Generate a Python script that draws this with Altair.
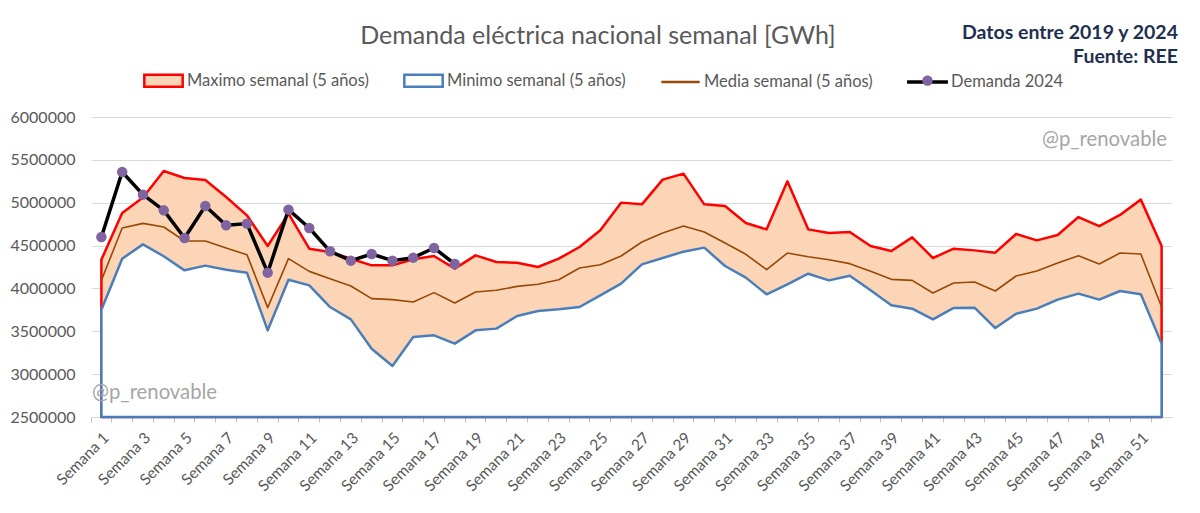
import altair as alt
import pandas as pd

FONT = "Lato"
GREY_TXT = "#595959"

title_text = ["Demanda eléctrica nacional semanal [GWh]"]
info_line1 = ["Datos entre 2019 y 2024"]
info_line2 = ["Fuente: REE"]
watermark = ["@p_renovable"]

series_names = [
    "Maximo semanal (5 años)",
    "Minimo semanal (5 años)",
    "Media semanal (5 años)",
    "Demanda 2024",
]

weeks = [f"Semana {i}" for i in range(1, 53)]

y_ticks = [2500000, 3000000, 3500000, 4000000, 4500000, 5000000, 5500000, 6000000]

max_5y = [4336000, 4880000, 5060000, 5370000, 5288000, 5265000, 5067000, 4853000,
          4495000, 4872000, 4464000, 4425000, 4347000, 4269000, 4269000, 4340000,
          4378000, 4231000, 4386000, 4308000, 4300000, 4250000, 4347000, 4483000,
          4678000, 5001000, 4981000, 5269000, 5339000, 4981000, 4962000, 4763000,
          4689000, 5249000, 4689000, 4647000, 4658000, 4495000, 4437000, 4596000,
          4355000, 4464000, 4444000, 4417000, 4635000, 4561000, 4623000, 4833000,
          4728000, 4857000, 5036000, 4495000]

min_5y = [3752000, 4347000, 4514000, 4375000, 4211000, 4266000, 4219000, 4184000,
          3511000, 4102000, 4036000, 3783000, 3639000, 3297000, 3095000, 3433000,
          3453000, 3356000, 3511000, 3531000, 3678000, 3737000, 3756000, 3783000,
          3919000, 4056000, 4281000, 4355000, 4429000, 4476000, 4262000, 4126000,
          3931000, 4048000, 4172000, 4094000, 4148000, 3978000, 3803000, 3764000,
          3639000, 3772000, 3776000, 3538000, 3705000, 3764000, 3869000, 3939000,
          3869000, 3970000, 3931000, 3356000]

mean_5y = [4094000, 4705000, 4759000, 4717000, 4553000, 4553000, 4472000, 4394000,
           3776000, 4347000, 4199000, 4114000, 4028000, 3881000, 3869000, 3842000,
           3951000, 3830000, 3958000, 3978000, 4024000, 4048000, 4102000, 4238000,
           4277000, 4378000, 4542000, 4647000, 4728000, 4658000, 4530000, 4398000,
           4219000, 4413000, 4370000, 4335000, 4289000, 4199000, 4106000, 4094000,
           3947000, 4063000, 4075000, 3970000, 4145000, 4203000, 4297000, 4382000,
           4285000, 4413000, 4402000, 3783000]

demand_2024 = [4600000, 5358000, 5094000, 4911000, 4588000, 4962000, 4736000, 4756000,
               4184000, 4919000, 4705000, 4433000, 4324000, 4402000, 4324000, 4359000,
               4472000, 4285000]

df = pd.DataFrame({
    "semana": weeks,
    "maximo": max_5y,
    "minimo": min_5y,
    "media": mean_5y,
    "demanda": demand_2024 + [None] * (len(weeks) - len(demand_2024)),
})

C_PEACH = "#fbd5b5"
C_RED = "#ff0000"
C_BLUE = "#4a7ebb"
C_BROWN = "#984807"
C_PURPLE = "#8064a2"

x_enc = alt.X(
    "semana:O",
    sort=weeks,
    bandPosition=0.5,
    scale=alt.Scale(type="band", paddingInner=0, paddingOuter=0),
    axis=alt.Axis(
        title=None,
        labelAngle=-45,
        labelExpr="toNumber(slice(datum.value, 7)) % 2 == 1 ? datum.value : ''",
        labelFont=FONT,
        labelFontSize=15.5,
        labelColor=GREY_TXT,
        labelPadding=8,
        labelOverlap=False,
        labelAlign="right",
        labelBaseline="top",
        bandPosition=0,
        domainColor="#d9d9d9",
        tickColor="#bfbfbf",
        tickSize=5,
        grid=False,
    ),
)

y_scale = alt.Scale(domain=[2500000, 6000000], nice=False, zero=False)
y_axis = alt.Axis(
    title=None,
    values=y_ticks,
    format="d",
    labelFont=FONT,
    labelFontSize=16,
    labelColor=GREY_TXT,
    labelPadding=16,
    domain=False,
    ticks=False,
    tickSize=0,
    grid=True,
    gridColor="#d9d9d9",
    gridWidth=1,
)

base = alt.Chart(df)

area_max = base.mark_area(
    fill=C_PEACH, stroke=C_RED, strokeWidth=2.5, strokeJoin="round", opacity=1
).encode(
    x=x_enc,
    y=alt.Y("maximo:Q", scale=y_scale, axis=y_axis),
    y2=alt.datum(2500000),
)

area_min = base.mark_area(
    fill="#ffffff", stroke=C_BLUE, strokeWidth=2.5, strokeJoin="round", opacity=1
).encode(
    x=x_enc,
    y=alt.Y("minimo:Q", scale=y_scale, axis=y_axis),
    y2=alt.datum(2500000),
)

line_mean = base.mark_line(color=C_BROWN, strokeWidth=1.6, strokeJoin="round").encode(
    x=x_enc,
    y=alt.Y("media:Q", scale=y_scale, axis=y_axis),
)

line_dem = base.mark_line(color="#000000", strokeWidth=3.5, strokeJoin="round").encode(
    x=x_enc,
    y=alt.Y("demanda:Q", scale=y_scale, axis=y_axis),
)

pts_dem = base.mark_circle(size=110, color=C_PURPLE, opacity=1).encode(
    x=x_enc,
    y=alt.Y("demanda:Q", scale=y_scale, axis=y_axis),
)

# ---- texts ----
title_layer = alt.Chart(pd.DataFrame({"t": title_text})).mark_text(
    font=FONT, fontSize=25, color=GREY_TXT, align="center", baseline="alphabetic"
).encode(x=alt.value(507), y=alt.value(-73), text="t:N")

info1 = alt.Chart(pd.DataFrame({"t": info_line1})).mark_text(
    font=FONT, fontSize=19.5, fontWeight="bold", color="#1f2f4f", align="right", baseline="alphabetic"
).encode(x=alt.value(1087), y=alt.value(-78), text="t:N")

info2 = alt.Chart(pd.DataFrame({"t": info_line2})).mark_text(
    font=FONT, fontSize=19.5, fontWeight="bold", color="#1f2f4f", align="right", baseline="alphabetic"
).encode(x=alt.value(1087), y=alt.value(-54), text="t:N")

wm_top = alt.Chart(pd.DataFrame({"t": watermark})).mark_text(
    font=FONT, fontSize=20.3, color="#a6a6a6", align="right", baseline="middle"
).encode(x=alt.value(1076), y=alt.value(23), text="t:N")

wm_bottom = alt.Chart(pd.DataFrame({"t": watermark})).mark_text(
    font=FONT, fontSize=20.3, color="#a6a6a6", align="left", baseline="middle"
).encode(x=alt.value(1), y=alt.value(276), text="t:N")

# ---- legend ----
RECT = "M-1.37,-0.43H1.37V0.43H-1.37Z"
LINE = "M-1.37,0H1.37"
THICK = "M-1.37,-0.04H1.37V0.04H-1.37Z"
# circle, plus invisible move-to points spanning the same width as the other symbols
CIRC = "M-1.37,0M1.37,0M0.37,0A0.37,0.37,0,1,1,-0.37,0A0.37,0.37,0,1,1,0.37,0Z"

legend_common = dict(
    title=None,
    orient="none",
    legendX=57,
    legendY=-52,
    direction="horizontal",
    columns=4,
    columnPadding=30,
    symbolSize=784,
    labelOffset=8,
    labelFont=FONT,
    labelFontSize=16.5,
    labelColor=GREY_TXT,
    labelLimit=0,
    padding=0,
    symbolStrokeWidth=2.5,
)

legend_a = alt.Chart(pd.DataFrame({"serie": series_names})).transform_filter(
    "false"
).mark_point(opacity=1, strokeWidth=2.5).encode(
    stroke=alt.Stroke(
        "serie:N",
        scale=alt.Scale(domain=series_names, range=[C_RED, C_BLUE, C_BROWN, "#000000"]),
        legend=alt.Legend(**legend_common),
    ),
    fill=alt.Fill(
        "serie:N",
        scale=alt.Scale(domain=series_names, range=[C_PEACH, "#ffffff", "transparent", "#000000"]),
        legend=alt.Legend(**legend_common),
    ),
    shape=alt.Shape(
        "serie:N",
        scale=alt.Scale(domain=series_names, range=[RECT, RECT, LINE, THICK]),
        legend=alt.Legend(**legend_common),
    ),
)

codes = ["_" + s for s in series_names]
legend_b = alt.Chart(pd.DataFrame({"code": codes})).transform_filter(
    "false"
).mark_point(filled=True, opacity=1, shape=CIRC, stroke="transparent", strokeWidth=2.5).encode(
    color=alt.Color(
        "code:N",
        scale=alt.Scale(domain=codes, range=["transparent", "transparent", "transparent", C_PURPLE]),
        legend=alt.Legend(
            symbolType=CIRC,
            symbolStrokeColor="transparent",
            labelExpr="slice(datum.value, 1)",
            labelOpacity=0,
            **legend_common,
        ),
    ),
)

chart = alt.layer(
    area_max, area_min, line_mean, line_dem, pts_dem,
    title_layer, info1, info2, wm_top, wm_bottom,
    legend_a, legend_b,
).properties(
    width=1081,
    height=300,
    autosize=alt.AutoSizeParams(type="none"),
    padding={"left": 83, "top": 109, "right": 12, "bottom": 80},
    background="#ffffff",
).configure_view(stroke=None)

chart.save("out.html", embed_options={"renderer": "svg", "actions": False})
